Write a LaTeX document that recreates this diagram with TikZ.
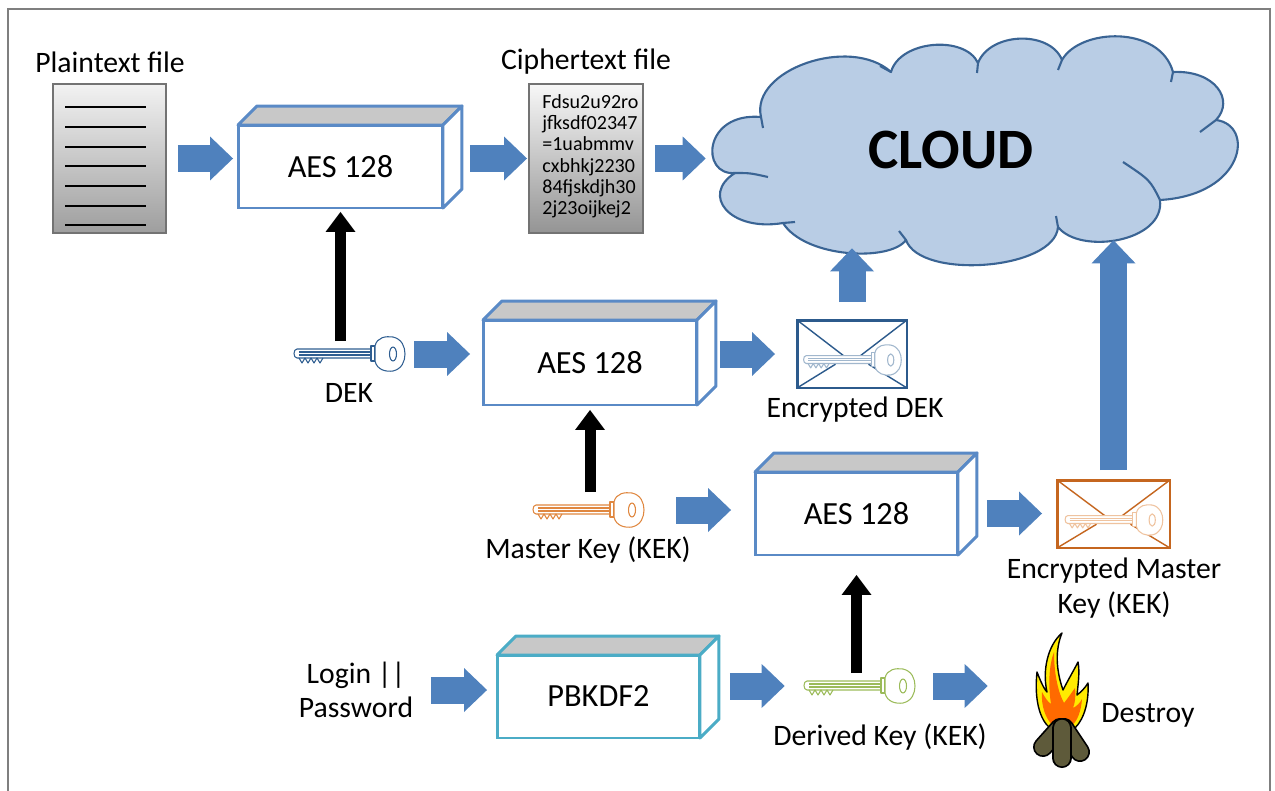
\documentclass[tikz,border=0pt]{standalone}
\usepackage{fontspec}
\setmainfont{Carlito}
\usetikzlibrary{arrows.meta,calc}

\definecolor{arrowblue}{HTML}{4F81BD}
\definecolor{boxblue}{HTML}{5A8AC6}
\definecolor{kdfteal}{HTML}{4BACC6}
\definecolor{boxtop}{HTML}{C8C8C8}
\definecolor{cloudfill}{HTML}{B9CDE5}
\definecolor{cloudline}{HTML}{3A6494}
\definecolor{dekblue}{HTML}{2F5E91}
\definecolor{envblue}{HTML}{2C5A8C}
\definecolor{kekorange}{HTML}{E0873F}
\definecolor{envorange}{HTML}{C5661F}
\definecolor{kdfgreen}{HTML}{9BBB59}
\definecolor{framegray}{HTML}{7F7F7F}
\definecolor{logbrown}{HTML}{5E5A3A}
\definecolor{flameyellow}{HTML}{FFEB00}
\definecolor{flameorange}{HTML}{FF6A00}

\newcommand{\lblfont}{\fontsize{16.9}{19.5}\selectfont}
\newcommand{\boxfont}{\fontsize{18.4}{21}\selectfont}
\newcommand{\cipherfont}{\fontsize{11.4}{12.1}\selectfont}

% top and side faces of a box node
\newcommand{\boxfaces}[2]{%
  \filldraw[fill=boxtop, draw=#2, line width=1.7pt, line join=round]
    (#1.north west) -- ++(19,-19) -- ($(#1.north east)+(19,-19)$) -- (#1.north east) -- cycle;
  \filldraw[fill=white, draw=#2, line width=1.7pt, line join=round]
    (#1.north east) -- ++(19,-19) -- ($(#1.south east)+(19,-19)$) -- (#1.south east) -- cycle;
}

% key icon: [scale]{centre}{colour}
\newcommand{\keyshape}[3][1]{%
  \begin{scope}[shift={(#2)}, scale=#1, draw=#3, line width=0.6pt, line join=round]
    \filldraw[fill=white] (25,-5) -- (-52,-5) .. controls (-56,-5) and (-56,4) .. (-52,4) -- (25,4) -- cycle;
    \draw (-50,-2) -- (22,-2) (-50,1) -- (22,1);
    \draw (-50,4) -- (-47,9) -- (-44,4) -- (-41,9) -- (-38,4) -- (-35,9) -- (-32,4) -- (-29,9) -- (-26,4);
    \filldraw[fill=white] (22,-8) rectangle (26,7);
    \filldraw[fill=white] (26,-8) .. controls (28,-17) and (37,-18) .. (44,-17)
      .. controls (53,-15) and (56,-7) .. (56,0) .. controls (56,7) and (53,15) .. (44,17)
      .. controls (37,18) and (28,16) .. (26,7) -- cycle;
    \draw (44,0) ellipse (3.5 and 7);
  \end{scope}}

% flap lines and key inside an envelope node
\newcommand{\envlines}[3]{%
  \draw[#2, line width=0.8pt] (#1.north west) -- ($(#1.north)!0.62!(#1.south)$) -- (#1.north east);
  \draw[#2, line width=0.8pt] (#1.south west) -- ($(#1.south west)!0.35!(#1.north east)$)
    (#1.south east) -- ($(#1.south east)!0.35!(#1.north west)$);
  \keyshape[0.88]{$(#1.center)+(0,6)$}{#3}
}

\begin{document}
\begin{tikzpicture}[
    x=0.02cm, y=-0.02cm,
    font=\lblfont,
    lbl/.style={inner sep=2pt},
    aesbox/.style={draw=boxblue, line width=1.7pt, outer sep=0pt, font=\boxfont},
    docbox/.style={draw=black!55, line width=0.6pt, outer sep=0pt},
    keynode/.style={minimum width=2.2cm, minimum height=0.7cm, inner sep=0pt},
    envnode/.style={line width=1.7pt, fill=white, minimum width=2.2cm, minimum height=1.36cm, outer sep=0pt},
    bluearrow/.style={draw=arrowblue, line width=0.54cm, -{Triangle[width=0.88cm, length=0.46cm, line width=0pt]}},
    blackarrow/.style={draw=black, line width=0.22cm, -{Triangle[width=0.6cm, length=0.4cm, line width=0pt]}}
  ]
  \useasboundingbox (0,0) rectangle (1275,791);
  \draw[framegray, line width=1.2pt] (8,791) -- (8,9) -- (1270,9) -- (1270,791);

  % ---- files ----
  \node[lbl] (plainlbl) at (110,62) {Plaintext file};
  \node[docbox, top color=black!5, bottom color=black!38, minimum width=2.26cm, minimum height=2.98cm] (plain) at (109.5,158.5) {};
  \foreach \yy in {107,127,147,166,186,206,225}
    \draw[line width=0.6pt] (65,\yy) -- (146,\yy);

  \node[lbl] (cipherlbl) at (586,62) {Ciphertext file};
  \node[docbox, top color=black!3, bottom color=black!42, minimum width=2.28cm, minimum height=2.98cm] (cipher) at (586,158.5) {};
  \node[anchor=north west, align=left, font=\cipherfont, inner sep=0pt] (ciphertxt) at (542,94)
    {Fdsu2u92ro\\jfksdf02347\\=1uabmmv\\cxbhkj2230\\84fjskdjh30\\2j23oijkej2};

  % ---- cloud ----
  \node[minimum width=10.6cm, minimum height=4.6cm, inner sep=0pt] (cloud) at (972,152) {};
  \filldraw[fill=cloudfill, draw=cloudline, line width=1.2pt, line join=round]
    (735,173) .. controls (700,176) and (703,112) .. (761,117)
    .. controls (750,70) and (850,35) .. (891,72)
    .. controls (900,40) and (965,35) .. (978,63)
    .. controls (990,32) and (1050,30) .. (1062,60)
    .. controls (1080,28) and (1160,25) .. (1173,72)
    .. controls (1215,70) and (1235,100) .. (1216,120)
    .. controls (1255,125) and (1245,195) .. (1160,200)
    .. controls (1165,242) and (1080,255) .. (1058,227)
    .. controls (1055,270) and (920,280) .. (906,240)
    .. controls (890,262) and (805,258) .. (783,223)
    .. controls (730,232) and (700,195) .. (735,173) -- cycle;
  % creases
  \draw[cloudline, line width=1.2pt]
    (761,117) -- (763,128)
    (735,173) .. controls (750,173) .. (768,177)
    (783,223) -- (795,222)
    (906,240) -- (899,231)
    (1058,227) -- (1056,216)
    (1160,200) .. controls (1150,180) .. (1123,162)
    (1216,120) -- (1200,132)
    (1173,72) -- (1171,82)
    (1062,60) -- (1058,70)
    (978,63) -- (977,73)
    (891,72) -- (880,66);
  \node[font=\fontsize{32.5}{36}\selectfont\bfseries] (cloudtxt) at (951,150) {CLOUD};

  % ---- cipher boxes ----
  \node[aesbox, minimum width=4.1cm, minimum height=1.66cm] (aes1) at (340.5,166.5) {AES 128};
  \boxfaces{aes1}{boxblue}
  \node[aesbox, minimum width=4.28cm, minimum height=1.7cm] (aes2) at (590,362.5) {AES 128};
  \boxfaces{aes2}{boxblue}
  \node[aesbox, minimum width=4.06cm, minimum height=1.66cm] (aes3) at (856.5,513.5) {AES 128};
  \boxfaces{aes3}{boxblue}
  \node[aesbox, draw=kdfteal, minimum width=4.06cm, minimum height=1.66cm] (kdf) at (598.5,696.5) {PBKDF2};
  \boxfaces{kdf}{kdfteal}

  % ---- keys ----
  \node[keynode] (dek) at (349,354) {};
  \keyshape{dek.center}{dekblue}
  \node[lbl] (deklbl) at (349,393) {DEK};

  \node[keynode] (kek) at (588,510) {};
  \keyshape{kek.center}{kekorange}
  \node[lbl] (keklbl) at (588,550) {Master Key (KEK)};

  \node[keynode] (derived) at (859,686) {};
  \keyshape{derived.center}{kdfgreen}
  \node[lbl] (derivedlbl) at (880,737) {Derived Key (KEK)};

  % ---- envelopes ----
  \node[envnode, draw=envblue] (envdek) at (852,354) {};
  \envlines{envdek}{envblue}{dekblue!45}
  \node[lbl] (envdeklbl) at (855,410) {Encrypted DEK};

  \node[envnode, draw=envorange, minimum width=2.26cm] (envmaster) at (1113.5,514) {};
  \envlines{envmaster}{envorange}{kekorange!50}
  \node[lbl, align=center] (envmasterlbl) at (1114,588) {Encrypted Master\\Key (KEK)};

  % ---- login and fire ----
  \node[lbl, align=center] (login) at (356,690) {Login ||\\Password};
  \node[lbl] (destroy) at (1148,715) {Destroy};

  \node[inner sep=0pt, minimum width=1.16cm, minimum height=2.54cm] (fire) at (1059,702) {};
  \filldraw[fill=flameyellow, draw=black, line width=0.8pt, line join=round]
    (1050,728) .. controls (1040,720) and (1034,700) .. (1037,672)
    .. controls (1042,685) and (1045,690) .. (1047,692)
    .. controls (1042,670) and (1048,645) .. (1062,633)
    .. controls (1055,650) and (1056,670) .. (1063,690)
    .. controls (1068,680) and (1074,670) .. (1078,662)
    .. controls (1080,672) and (1078,685) .. (1077,695)
    .. controls (1081,692) and (1085,688) .. (1088,683)
    .. controls (1089,700) and (1085,718) .. (1075,728) -- cycle;
  \fill[flameorange]
    (1053,726) .. controls (1045,718) and (1041,705) .. (1042,692)
    .. controls (1045,698) and (1048,702) .. (1051,704)
    .. controls (1048,685) and (1049,665) .. (1054,652)
    .. controls (1054,670) and (1057,690) .. (1064,703)
    .. controls (1068,698) and (1072,692) .. (1075,688)
    .. controls (1076,696) and (1075,703) .. (1073,708)
    .. controls (1077,706) and (1080,703) .. (1082,699)
    .. controls (1081,712) and (1077,722) .. (1071,726) -- cycle;
  \foreach \a/\b in {{(1060,728)}/{(1043,747)}, {(1064,728)}/{(1080,752)}, {(1062,728)}/{(1062,758)}} {
    \draw[black, line width=0.4cm, line cap=round] \a -- \b;
    \draw[logbrown, line width=0.33cm, line cap=round] \a -- \b;
  }

  % ---- block arrows ----
  \draw[bluearrow, shorten <=0.24cm, shorten >=0.1cm] (plain.east) -- (plain.east -| aes1.west);
  \draw[bluearrow, shorten <=0.54cm, shorten >=0.04cm] (cipher.west -| aes1.east) -- (cipher.west);
  \draw[bluearrow, shorten <=0.24cm, shorten >=0.02cm] (cipher.east) -- (cipher.east -| cloud.west);
  \draw[bluearrow, shorten <=0.2cm, shorten >=0.26cm] (dek.east) -- (dek.east -| aes2.west);
  \draw[bluearrow, shorten <=0.46cm, shorten >=0.44cm] (aes2.east |- envdek.west) -- (envdek.west);
  \draw[bluearrow, shorten <=0.36cm, shorten >=-0.38cm] (envdek.north) -- (envdek.north |- cloud.south);
  \draw[bluearrow, shorten <=0.66cm, shorten >=0.48cm] (kek.east) -- (kek.east -| aes3.west);
  \draw[bluearrow, shorten <=0.58cm, shorten >=0.3cm] (aes3.east) -- (aes3.east -| envmaster.west);
  \draw[bluearrow, shorten <=0.2cm, shorten >=-0.54cm] (envmaster.north) -- (envmaster.north |- cloud.south);
  \draw[bluearrow, shorten <=0.28cm, shorten >=0.2cm] (login.east) -- (login.east -| kdf.west);
  \draw[bluearrow, shorten <=0.6cm, shorten >=0.38cm] (kdf.east |- derived.west) -- (derived.west);
  \draw[bluearrow, shorten <=0.38cm, shorten >=0.84cm] (derived.east) -- (derived.east -| fire.west);

  % ---- key inputs ----
  \draw[blackarrow, shorten <=-0.1cm, shorten >=0.08cm] (dek.north -| aes1.south) -- (aes1.south);
  \draw[blackarrow, shorten >=0.1cm] (kek.north -| aes2.south) -- (aes2.south);
  \draw[blackarrow, shorten <=-0.1cm, shorten >=0.4cm] (derived.north -| aes3.south) -- (aes3.south);
\end{tikzpicture}
\end{document}
